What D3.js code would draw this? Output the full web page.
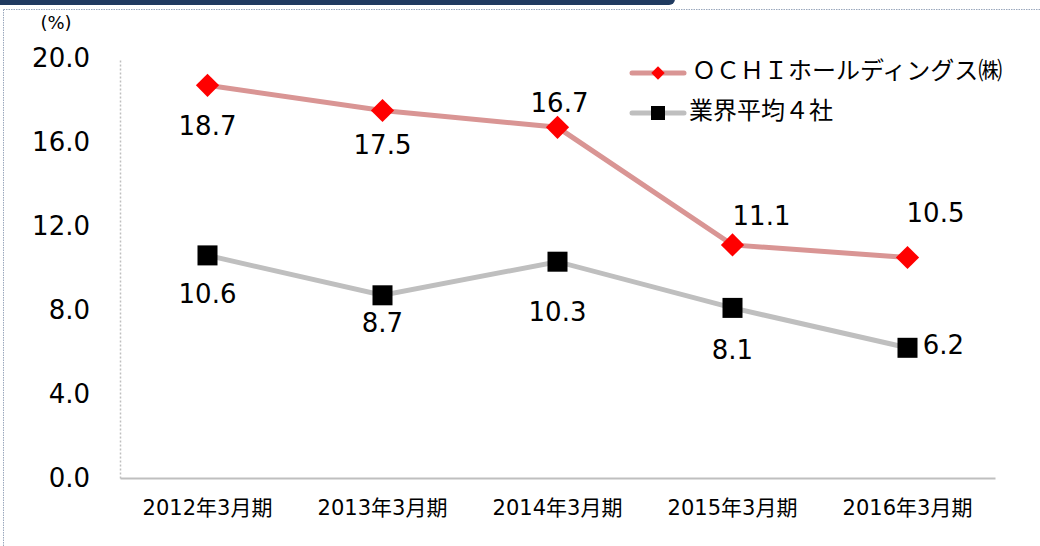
<!DOCTYPE html>
<html>
<head>
<meta charset="utf-8">
<script src="https://cdn.jsdelivr.net/npm/d3@7"></script>
<style>
  body { margin: 0; background: #fff; }
  svg { display: block; font-family: "DejaVu Sans", "Noto Sans CJK JP", sans-serif; }
</style>
</head>
<body>
<svg id="chart"></svg>
<script>
// data
const periods = ['2012年3月期', '2013年3月期', '2014年3月期', '2015年3月期', '2016年3月期'];
const ochiValues = [18.7, 17.5, 16.7, 11.1, 10.5];
const industryValues = [10.6, 8.7, 10.3, 8.1, 6.2];
const yTicks = [0, 4, 8, 12, 16, 20];
const seriesNames = ['ＯＣＨＩホールディングス㈱', '業界平均４社'];

// label offsets relative to each point [dx, dy of baseline]
const ochiLabelOffsets = [[0, 50], [0, 43], [2, -15], [29, -20], [28, -36]];
const industryLabelOffsets = [[0, 48], [0, 37], [0, 59], [0, 51], [36, 6]];

const width = 1040, height = 546;
const margin = { top: 58, right: 45, bottom: 68, left: 120 };

const svg = d3.select('#chart')
    .attr('width', width)
    .attr('height', height);

// header bar + dotted frame
svg.append('rect')
    .attr('x', -10).attr('y', -10)
    .attr('width', 685).attr('height', 15)
    .attr('rx', 6)
    .attr('fill', '#1f3a60');

svg.append('line')
    .attr('x1', 3.5).attr('x2', width)
    .attr('y1', 9.5).attr('y2', 9.5)
    .attr('stroke', '#9aa8bd')
    .attr('stroke-dasharray', '1.5,1');

svg.append('line')
    .attr('x1', 3.5).attr('x2', 3.5)
    .attr('y1', 9.5).attr('y2', height)
    .attr('stroke', '#9aa8bd')
    .attr('stroke-dasharray', '1.5,1');

const xscale = d3.scaleBand()
    .domain(periods)
    .range([margin.left, width - margin.right]);

const yscale = d3.scaleLinear()
    .domain([0, 20])
    .range([height - margin.bottom, margin.top]);

const xpos = d => xscale(d) + xscale.bandwidth() / 2;

// y axis
const yaxis = d3.axisLeft(yscale)
    .tickValues(yTicks)
    .tickFormat(d3.format('.1f'))
    .tickSize(0)
    .tickPadding(30);

const yaxis_group = svg.append('g')
    .attr('transform', `translate(${margin.left}, 0)`)
    .call(yaxis);

yaxis_group.select('.domain')
    .attr('stroke', '#bfbfbf')
    .attr('stroke-width', 1.5)
    .attr('stroke-dasharray', '2,2');

yaxis_group.selectAll('text')
    .attr('font-size', 26)
    .attr('font-family', '"DejaVu Sans", sans-serif')
    .attr('fill', '#000');

// x axis
const xaxis = d3.axisBottom(xscale)
    .tickSize(0)
    .tickPadding(22);

const xaxis_group = svg.append('g')
    .attr('transform', `translate(0, ${height - margin.bottom})`)
    .call(xaxis);

xaxis_group.select('.domain')
    .attr('stroke', '#bfbfbf')
    .attr('stroke-width', 2);

xaxis_group.selectAll('text')
    .attr('font-size', 21)
    .attr('font-family', '"DejaVu Sans", "Noto Sans CJK JP", sans-serif')
    .attr('fill', '#000');

// unit label
svg.append('text')
    .attr('x', 56)
    .attr('y', 29)
    .attr('text-anchor', 'middle')
    .attr('font-size', 18)
    .text('(%)');

const line = d3.line()
    .x((d, i) => xpos(periods[i]))
    .y(d => yscale(d));

// industry average series
svg.append('path')
    .datum(industryValues)
    .attr('d', line)
    .attr('fill', 'none')
    .attr('stroke', '#bfbfbf')
    .attr('stroke-width', 5);

const sq = 20;
svg.selectAll('rect.ind')
    .data(industryValues)
    .join('rect')
    .attr('class', 'ind')
    .attr('x', (d, i) => xpos(periods[i]) - sq / 2)
    .attr('y', d => yscale(d) - sq / 2)
    .attr('width', sq)
    .attr('height', sq)
    .attr('fill', '#000');

// OCHI series
svg.append('path')
    .datum(ochiValues)
    .attr('d', line)
    .attr('fill', 'none')
    .attr('stroke', '#d99594')
    .attr('stroke-width', 5);

const diamond = d3.symbol().type(d3.symbolSquare).size(270);
svg.selectAll('path.ochi')
    .data(ochiValues)
    .join('path')
    .attr('class', 'ochi')
    .attr('d', diamond)
    .attr('transform', (d, i) => `translate(${xpos(periods[i])}, ${yscale(d)}) rotate(45)`)
    .attr('fill', '#ff0000');

// data labels
const fmt = d3.format('.1f');
svg.selectAll('text.ochi-label')
    .data(ochiValues)
    .join('text')
    .attr('class', 'ochi-label')
    .attr('x', (d, i) => xpos(periods[i]) + ochiLabelOffsets[i][0])
    .attr('y', (d, i) => yscale(d) + ochiLabelOffsets[i][1])
    .attr('text-anchor', 'middle')
    .attr('font-size', 26)
    .text(fmt);

svg.selectAll('text.ind-label')
    .data(industryValues)
    .join('text')
    .attr('class', 'ind-label')
    .attr('x', (d, i) => xpos(periods[i]) + industryLabelOffsets[i][0])
    .attr('y', (d, i) => yscale(d) + industryLabelOffsets[i][1])
    .attr('text-anchor', 'middle')
    .attr('font-size', 26)
    .text(fmt);

// legend
const legend = svg.append('g');
const legendRows = [
    { name: seriesNames[0], color: '#d99594', y: 73 },
    { name: seriesNames[1], color: '#bfbfbf', y: 113 }
];

legendRows.forEach((r, i) => {
    legend.append('line')
        .attr('x1', 632).attr('x2', 684)
        .attr('y1', r.y).attr('y2', r.y)
        .attr('stroke', r.color)
        .attr('stroke-width', 5)
        .attr('stroke-linecap', 'round');
    if (i === 0) {
        legend.append('path')
            .attr('d', d3.symbol().type(d3.symbolSquare).size(90))
            .attr('transform', `translate(658, ${r.y}) rotate(45)`)
            .attr('fill', '#ff0000');
    } else {
        legend.append('rect')
            .attr('x', 651).attr('y', r.y - 7)
            .attr('width', 14).attr('height', 14)
            .attr('fill', '#000');
    }
    legend.append('text')
        .attr('x', i === 0 ? 692 : 689)
        .attr('y', r.y + 6)
        .attr('font-size', 24)
        .attr('font-family', '"Noto Sans CJK JP", sans-serif')
        .text(r.name);
});
</script>
</body>
</html>
